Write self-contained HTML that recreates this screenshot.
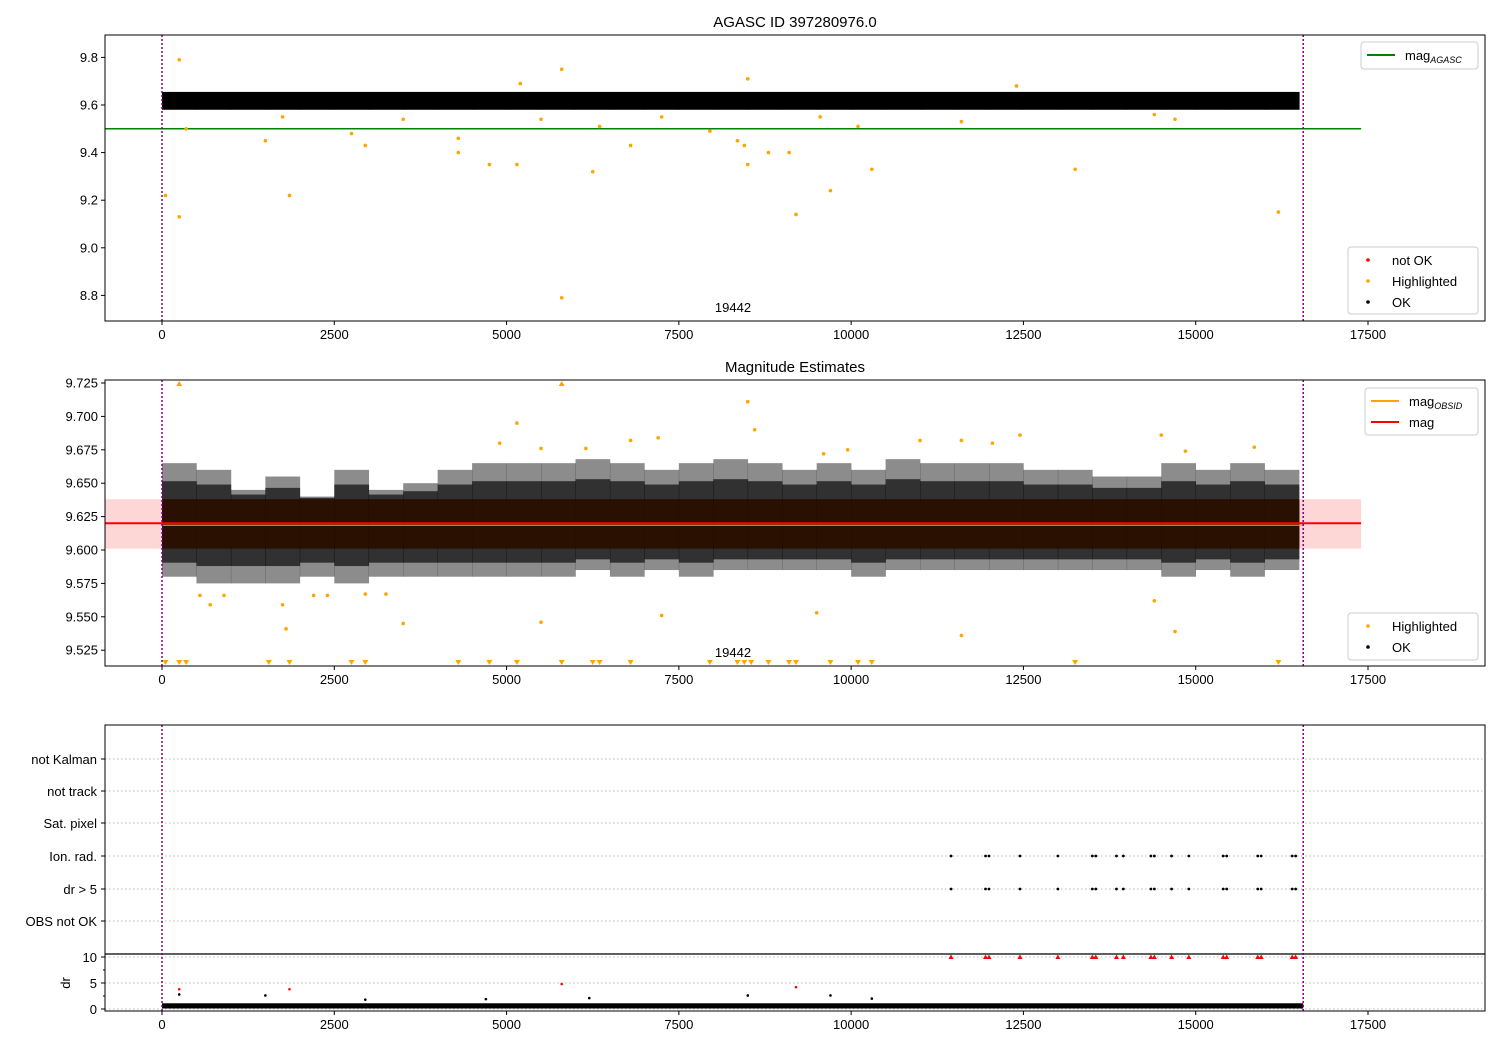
<!DOCTYPE html>
<html><head><meta charset="utf-8"><style>
body{margin:0;background:#fff;}
svg text{font-family:"Liberation Sans","DejaVu Sans",sans-serif;}
</style></head><body>
<svg id="c" xmlns="http://www.w3.org/2000/svg" width="1500" height="1050" viewBox="0 0 1500 1050"></svg>
<script>
// ---------- data ----------
const xTicks=[0,2500,5000,7500,10000,12500,15000,17500];
const obsStart=0, obsEnd=16560;
const agascMag=9.5, meanMag=9.620, magBandLow=9.601, magBandHigh=9.638;
const binStarts=[0,500,1000,1500,2000,2500,3000,3500,4000,4500,5000,5500,6000,6500,7000,7500,8000,8500,9000,9500,10000,10500,11000,11500,12000,12500,13000,13500,14000,14500,15000,15500,16000];
const binHigh=[9.665,9.66,9.645,9.655,9.64,9.66,9.645,9.65,9.66,9.665,9.665,9.665,9.668,9.665,9.66,9.665,9.668,9.665,9.66,9.665,9.66,9.668,9.665,9.665,9.665,9.66,9.66,9.655,9.655,9.665,9.66,9.665,9.66];
const binLow=[9.58,9.575,9.575,9.575,9.58,9.575,9.58,9.58,9.58,9.58,9.58,9.58,9.585,9.58,9.585,9.58,9.585,9.585,9.585,9.585,9.58,9.585,9.585,9.585,9.585,9.585,9.585,9.585,9.585,9.58,9.585,9.58,9.585];
const p1HiX=[50,250,250,350,1500,1750,1850,2750,2950,3500,4300,4300,4750,5150,5500,5800,5800,6250,6350,6800,7250,7950,8350,8450,8500,8500,8800,9100,9200,9550,9700,10100,10300,11600,13250,14400,14700,16200,5200,12400];
const p1HiY=[9.22,9.79,9.13,9.5,9.45,9.55,9.22,9.48,9.43,9.54,9.46,9.4,9.35,9.35,9.54,9.75,8.79,9.32,9.51,9.43,9.55,9.49,9.45,9.43,9.35,9.71,9.4,9.4,9.14,9.55,9.24,9.51,9.33,9.53,9.33,9.56,9.54,9.15,9.69,9.68];
const p2HiX=[700,550,900,1800,1750,2200,2400,3250,3500,5500,7250,9500,11600,14400,14700,2950,5150,4900,8500,8600,6800,7200,12450,14500,11000,11600,12050,15850,6150,5500,9950,14850,9600];
const p2HiY=[9.559,9.566,9.566,9.541,9.559,9.566,9.566,9.567,9.545,9.546,9.551,9.553,9.536,9.562,9.539,9.567,9.695,9.68,9.711,9.69,9.682,9.684,9.686,9.686,9.682,9.682,9.68,9.677,9.676,9.676,9.675,9.674,9.672];
const lowTriX=[50,250,350,1550,1850,2750,2950,4300,4750,5150,5800,6250,6350,6800,7950,8350,8450,8550,8800,9100,9200,9700,10100,10300,13250,16200];
const highTriX=[250,5800];
const flagRows=["not Kalman","not track","Sat. pixel","Ion. rad.","dr > 5","OBS not OK"];
const flagX=[11450,11950,12000,12450,13000,13500,13550,13850,13950,14350,14400,14650,14900,15400,15450,15900,15950,16400,16450];
const drTicks=[0,5,10];
const drRedX=[250,1850,5800,9200];
const drRedY=[3.8,3.8,4.8,4.2];
const drBlackX=[250,1500,2950,4700,6200,8500,9700,10300];
const drBlackY=[2.8,2.6,1.8,1.9,2.1,2.6,2.6,2.0];

// ---------- helpers ----------
const NS="http://www.w3.org/2000/svg", svg=document.getElementById('c');
function el(t,a,p){const e=document.createElementNS(NS,t);for(const k in a)e.setAttribute(k,a[k]);(p||svg).appendChild(e);return e;}
function txt(x,y,s,o){const e=el('text',Object.assign({x:x,y:y,'font-size':13,fill:'#000'},o||{}));e.textContent=s;return e;}
const X=v=>162+v*0.068914;
const Y1=v=>105+(9.6-v)*238;
const Y2=v=>383+(9.725-v)*1336;
const YD=v=>1009-v*5.2;
const L=105,R=1485;

function xAxis(bottom,name){
  const g=el('g',{});
  
  
  xTicks.forEach(t=>{el('line',{x1:X(t),x2:X(t),y1:bottom,y2:bottom+4,stroke:'#000'},g);
    txt(X(t),bottom+18,String(t),{'text-anchor':'middle'});});
}
function frame(top,bottom,name){const r=el('rect',{x:L,y:top,width:R-L,height:bottom-top,fill:'none',stroke:'#000','stroke-width':1});}
function vlines(top,bottom){[obsStart,obsEnd].forEach(v=>{const l=el('line',{x1:X(v),x2:X(v),y1:top,y2:bottom,stroke:'#800080','stroke-width':1.5,'stroke-dasharray':'2,2'});});}
function yTicks(vals,fn,fmt){vals.forEach(v=>{el('line',{x1:L-4,x2:L,y1:fn(v),y2:fn(v),stroke:'#000'});txt(L-7,fn(v)+4.5,fmt(v),{'text-anchor':'end'});});}
function dot(x,y,c,r){const d=el('circle',{cx:x,cy:y,r:r||1.8,fill:c});return d;}
function legend(x,y,w,h,items){const g=el('g',{});
  el('rect',{x:x,y:y,width:w,height:h,rx:3,fill:'#fff',stroke:'#ccc'},g);
  items.forEach((it,i)=>{const cy=y+13+i*21;
    if(it.line){el('line',{x1:x+6,x2:x+34,y1:cy,y2:cy,stroke:it.c,'stroke-width':2},g);}
    else el('circle',{cx:x+20,cy:cy,r:1.8,fill:it.c},g);
    const t=el('text',{x:x+44,y:cy+5,'font-size':13},g);t.innerHTML=it.t;});}

// ---------- panel 1 ----------
txt(795,27,'AGASC ID 397280976.0',{'text-anchor':'middle','font-size':15});
binStarts.forEach((b,i)=>{const r=el('rect',{x:X(b),y:Y1(9.655),width:X(Math.min(b+500,obsEnd))-X(b)+0.5,height:Y1(9.58)-Y1(9.655),fill:'#000'});});
const ga=el('line',{x1:L,x2:X(17400),y1:Y1(agascMag),y2:Y1(agascMag),stroke:'green','stroke-width':1.5});
p1HiX.forEach((x,i)=>{const d=dot(X(x),Y1(p1HiY[i]),'orange');});
vlines(35,321);frame(35,321,'panel-agasc');
yTicks([8.8,9.0,9.2,9.4,9.6,9.8],Y1,v=>v.toFixed(1));
xAxis(321,'x-axis-p1');
txt(733,312,'19442',{'text-anchor':'middle'});
legend(1361,42,117,27,[{line:1,c:'green',t:'mag<tspan font-size="9" font-style="italic" dy="3">AGASC</tspan>'}]);
legend(1348,247,130,67,[{c:'red',t:'not OK'},{c:'orange',t:'Highlighted'},{c:'#000',t:'OK'}]);

// ---------- panel 2 ----------
txt(795,372,'Magnitude Estimates',{'text-anchor':'middle','font-size':15});
const pb=el('rect',{x:L,y:Y2(magBandHigh),width:X(17400)-L,height:Y2(magBandLow)-Y2(magBandHigh),fill:'#fdd6d6'});
binStarts.forEach((b,i)=>{const w=X(Math.min(b+500,obsEnd))-X(b);
  const o=el('rect',{x:X(b),y:Y2(binHigh[i]),width:w+0.3,height:Y2(binLow[i])-Y2(binHigh[i]),fill:'#000',opacity:0.45});
  const hi=(binHigh[i]+magBandHigh)/2, lo=(binLow[i]+magBandLow)/2;
  const r=el('rect',{x:X(b),y:Y2(hi),width:w+0.3,height:Y2(lo)-Y2(hi),fill:'#000',opacity:0.65});
  const c=el('rect',{x:X(b),y:Y2(magBandHigh),width:w+0.3,height:Y2(magBandLow)-Y2(magBandHigh),fill:'#2a1000'});});
const ml=el('line',{x1:L,x2:X(17400),y1:Y2(meanMag),y2:Y2(meanMag),stroke:'red','stroke-width':2});
el('line',{x1:X(0),x2:X(obsEnd),y1:Y2(meanMag)+2,y2:Y2(meanMag)+2,stroke:'orange','stroke-width':1});
p2HiX.forEach((x,i)=>{const d=dot(X(x),Y2(p2HiY[i]),'orange');});
lowTriX.forEach(x=>{const cx=X(x),cy=663;const p=el('polygon',{points:`${cx-3},${cy-3} ${cx+3},${cy-3} ${cx},${cy+2}`,fill:'orange'});});
highTriX.forEach(x=>{const cx=X(x),cy=383;const p=el('polygon',{points:`${cx-3},${cy+3} ${cx+3},${cy+3} ${cx},${cy-2}`,fill:'orange'});});
vlines(380,666);frame(380,666,'panel-magnitude');
yTicks([9.525,9.55,9.575,9.6,9.625,9.65,9.675,9.7,9.725],Y2,v=>v.toFixed(3));
xAxis(666,'x-axis-p2');
txt(733,657,'19442',{'text-anchor':'middle'});
legend(1365,388,113,47,[{line:1,c:'orange',t:'mag<tspan font-size="9" font-style="italic" dy="3">OBSID</tspan>'},{line:1,c:'red',t:'mag'}]);
legend(1348,613,130,47,[{c:'orange',t:'Highlighted'},{c:'#000',t:'OK'}]);

// ---------- panel 3 ----------
const rowY=[759,791,823,856,889,921];
flagRows.forEach((n,i)=>{el('line',{x1:L,x2:R,y1:rowY[i],y2:rowY[i],stroke:'#bbb','stroke-dasharray':'1.5,2.5'});
  el('line',{x1:L-4,x2:L,y1:rowY[i],y2:rowY[i],stroke:'#000'});
  txt(L-8,rowY[i]+5,n,{'text-anchor':'end'});});
flagX.forEach(x=>{[3,4].forEach(r=>{const d=dot(X(x),rowY[r],'#000',1.4);});});
el('line',{x1:L,x2:R,y1:954,y2:954,stroke:'#000','stroke-width':1.2});
drTicks.forEach(t=>{el('line',{x1:L,x2:R,y1:YD(t),y2:YD(t),stroke:'#bbb','stroke-dasharray':'1.5,2.5'});el('line',{x1:L-4,x2:L,y1:YD(t),y2:YD(t),stroke:'#000'});
  txt(L-8,YD(t)+5,String(t),{'text-anchor':'end'});});
[2.5,7.5].forEach(t=>el('line',{x1:L-2,x2:L,y1:YD(t),y2:YD(t),stroke:'#000'}));
const db=el('rect',{x:X(0),y:YD(1.1),width:X(obsEnd)-X(0),height:YD(0.1)-YD(1.1),fill:'#000'});
flagX.forEach(x=>{const cx=X(x),cy=YD(10);const p=el('polygon',{points:`${cx-2.5},${cy+2} ${cx+2.5},${cy+2} ${cx},${cy-2.5}`,fill:'red'});});
drRedX.forEach((x,i)=>{const d=dot(X(x),YD(drRedY[i]),'red',1.3);});
drBlackX.forEach((x,i)=>{const d=dot(X(x),YD(drBlackY[i]),'#000',1.3);});
txt(70,983,'dr',{'text-anchor':'middle',transform:'rotate(-90 70 983)'});
vlines(725,1011);frame(725,1011,'panel-flags');
xAxis(1011,'x-axis-p3');
</script>
</body></html>
